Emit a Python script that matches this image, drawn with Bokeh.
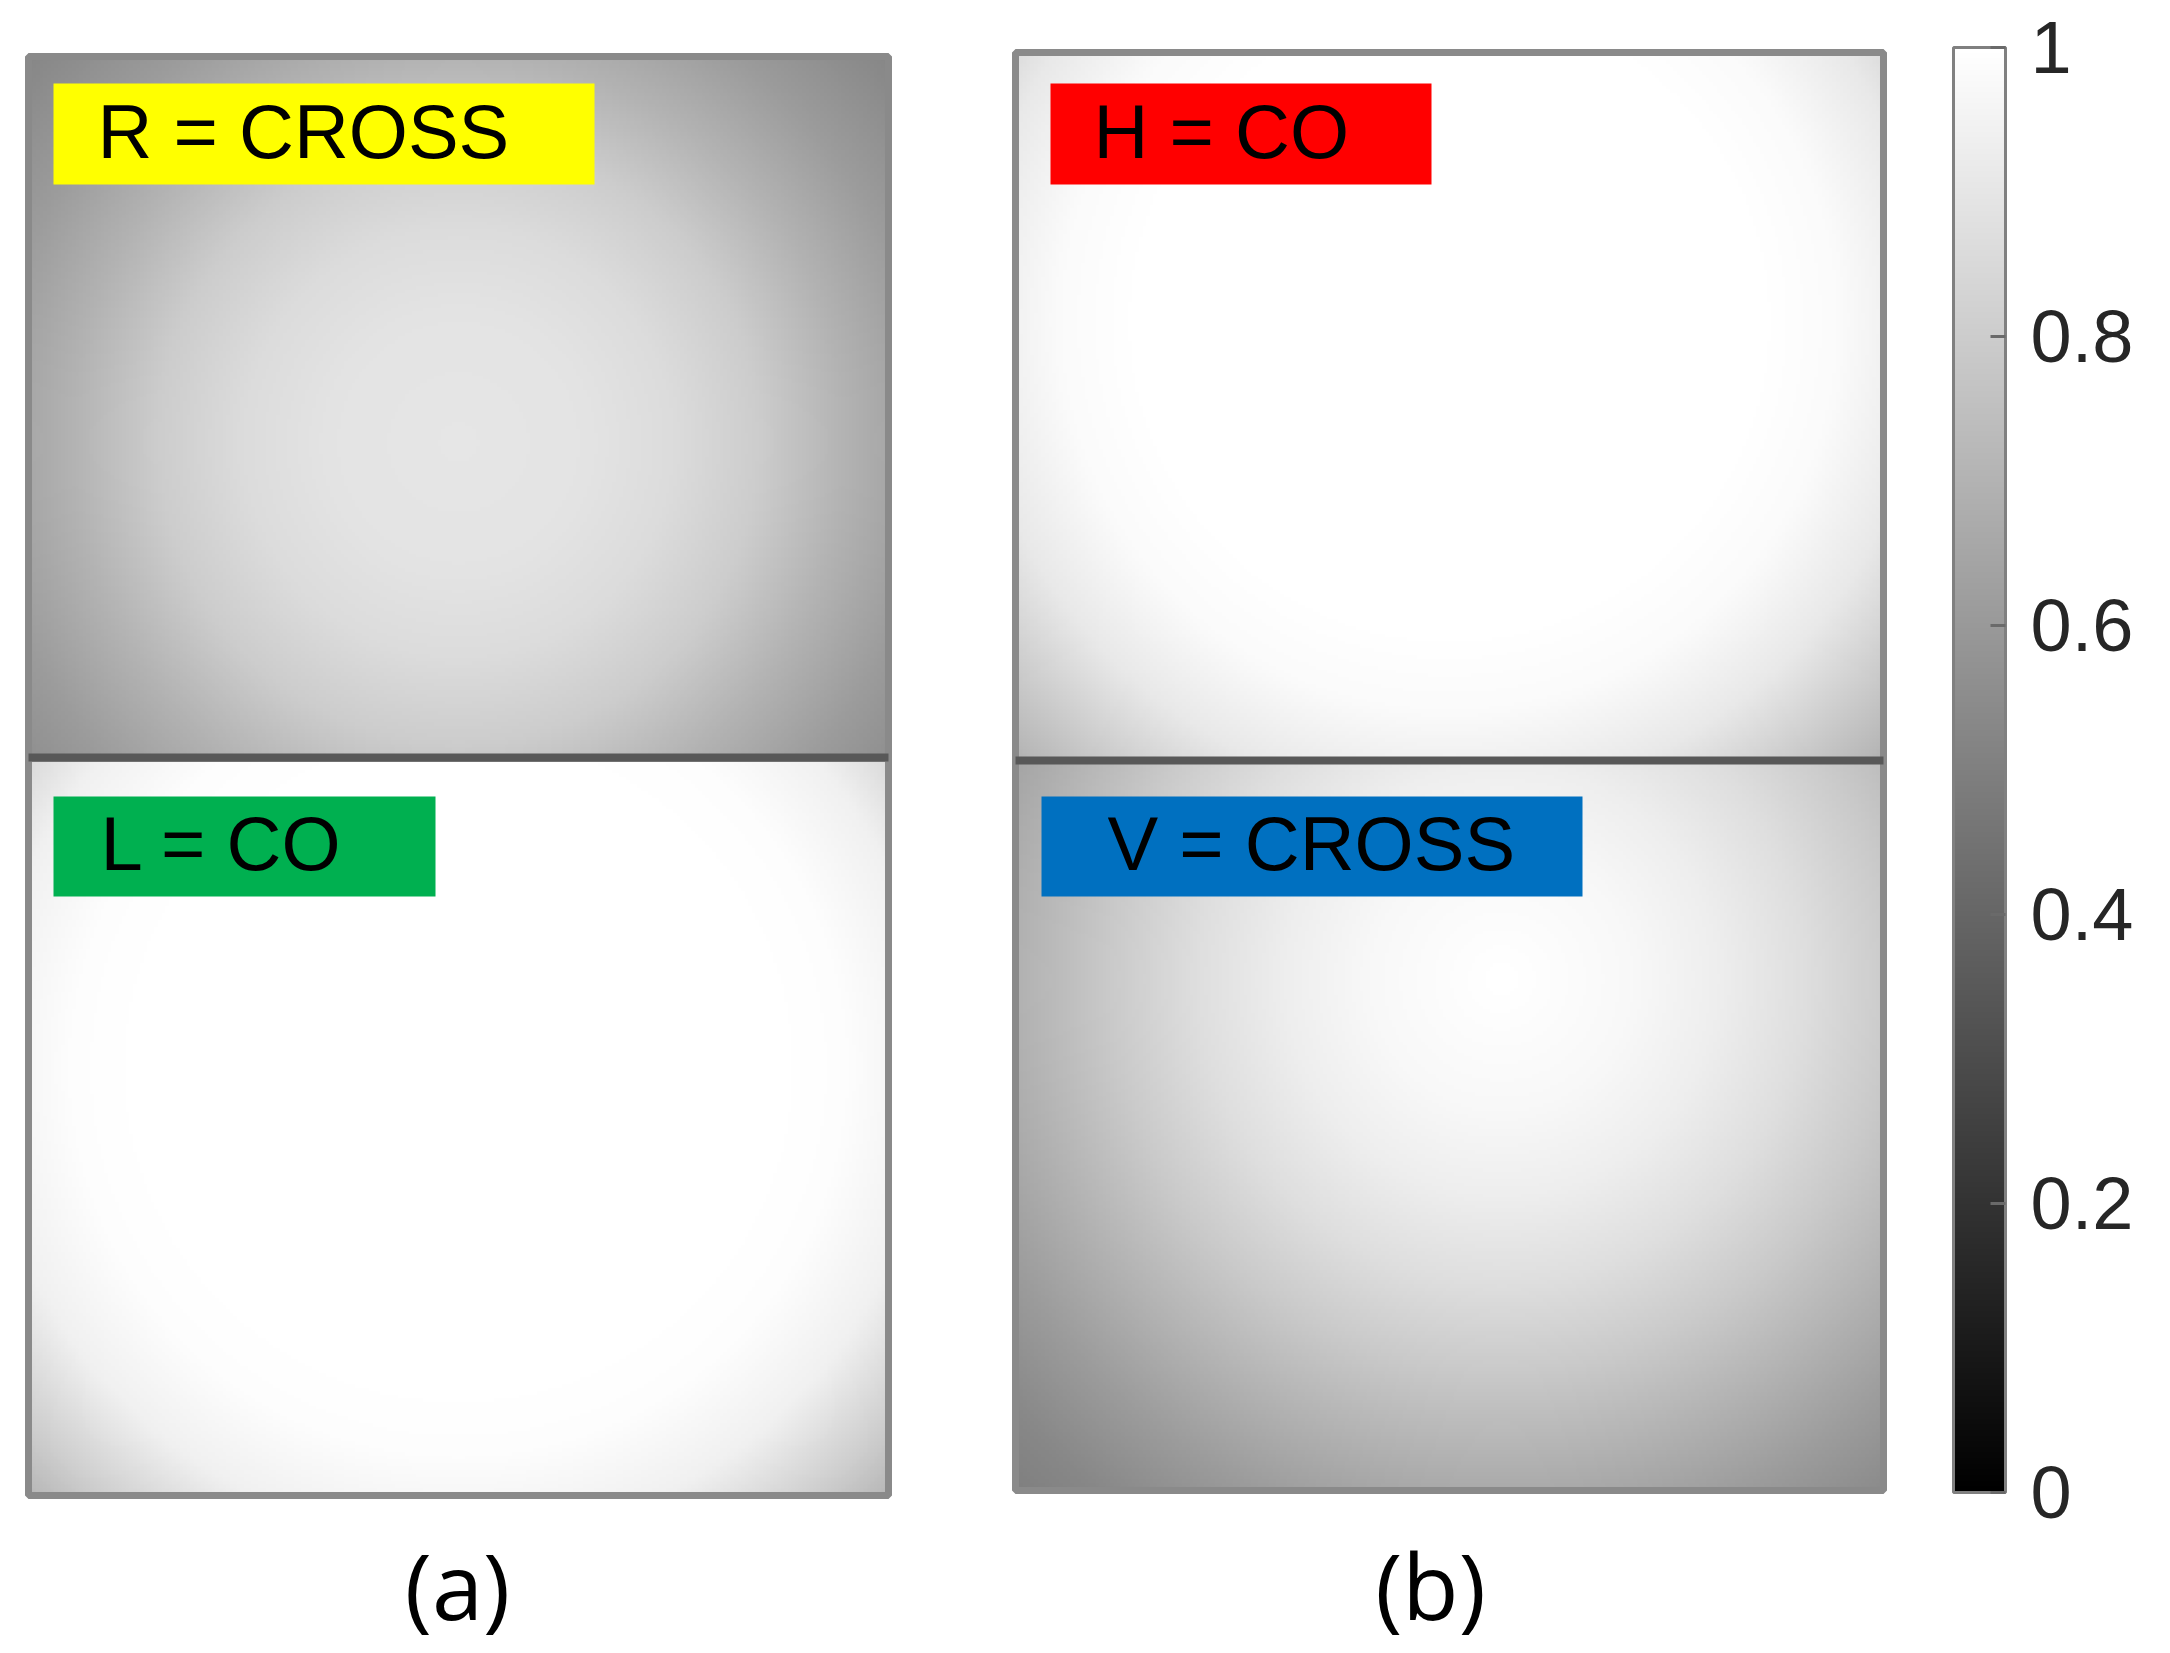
import numpy as np
from bokeh.plotting import figure
from bokeh.models import (Range1d, LinearColorMapper, ColorBar, FixedTicker,
                          CustomJSTickFormatter)
from bokeh.core.properties import value
from bokeh.embed import file_html
from bokeh.resources import INLINE

# ---------------- data ----------------
panel_names = ["R = CROSS", "L = CO", "H = CO", "V = CROSS"]
label_colors = ["#FFFF00", "#00B050", "#FF0000", "#0070C0"]
column_labels = ["(a)", "(b)"]

# radial intensity profiles: distance from the bright centre (in panel half-widths)
profile_r = [0.0, 0.3, 0.5, 0.7, 0.9, 1.1, 1.3, 1.5, 1.7]
R_cross = [0.90, 0.89, 0.86, 0.80, 0.70, 0.61, 0.54, 0.48, 0.45]
L_co = [1.00, 1.00, 1.00, 1.00, 0.99, 0.94, 0.80, 0.64, 0.56]
H_co = [1.00, 1.00, 1.00, 1.00, 0.98, 0.91, 0.78, 0.64, 0.56]
V_cross = [1.00, 0.97, 0.93, 0.87, 0.79, 0.70, 0.61, 0.53, 0.48]
profiles = [R_cross, L_co, H_co, V_cross]

# centre of the bright spot (fraction of width from left, of height from bottom)
centre_x = [0.50, 0.50, 0.50, 0.56]
centre_y = [0.45, 0.58, 0.62, 0.70]

colorbar_ticks = [0, 0.2, 0.4, 0.6, 0.8, 1]

# ---------------- layout (page pixels) ----------------
PAGE_W, PAGE_H = 2170, 1650


def Y(v):
    return PAGE_H - v


panel_rects = [(28, 888, 56, 758), (28, 888, 758, 1495),
               (1015, 1883, 52, 760), (1015, 1883, 760, 1490)]
label_boxes = [(53, 594, 83, 184), (53, 435, 796, 896),
               (1050, 1431, 83, 184), (1041, 1582, 796, 896)]
label_text_x = [97, 100, 1093, 1107]
column_label_x = [457, 1430]
column_label_y = 1584

grays = ["#%02x%02x%02x" % (i, i, i) for i in range(256)]
mapper = LinearColorMapper(palette=grays, low=0, high=1)

p = figure(width=PAGE_W, height=PAGE_H, x_range=Range1d(0, PAGE_W),
           y_range=Range1d(0, PAGE_H), output_backend="svg",
           toolbar_location=None, x_axis_location=None, y_axis_location=None,
           min_border=0, outline_line_color=None)
p.grid.visible = False


def intensity_map(vals, cx, cy, w, h, nx=240):
    ny = int(round(nx * h / w))
    xs = (np.arange(nx) + 0.5) / nx
    ys = (np.arange(ny) + 0.5) / ny
    X, Yg = np.meshgrid(xs, ys)
    r = np.hypot((X - cx) * w, (Yg - cy) * h) / (w / 2.0)
    return np.interp(r, profile_r, vals)


for k, (l, r, t, b) in enumerate(panel_rects):
    w, h = r - l, b - t
    img = intensity_map(profiles[k], centre_x[k], centre_y[k], w, h)
    p.image(image=[img], x=l, y=Y(b), dw=w, dh=h, color_mapper=mapper)

# frames
p.quad(left=[q[0] for q in panel_rects], right=[q[1] for q in panel_rects],
       top=[Y(q[2]) for q in panel_rects], bottom=[Y(q[3]) for q in panel_rects],
       fill_color=None, line_color="#8a8a8a", line_width=7)
# dividers between upper and lower maps
p.segment(x0=[28, 1015], x1=[888, 1883], y0=[Y(757), Y(760)], y1=[Y(757), Y(760)],
          line_color="#585858", line_width=8)

# coloured labels
p.quad(left=[q[0] for q in label_boxes], right=[q[1] for q in label_boxes],
       top=[Y(q[2]) for q in label_boxes], bottom=[Y(q[3]) for q in label_boxes],
       fill_color=label_colors, line_color=None)
p.text(x=label_text_x, y=[Y((q[2] + q[3]) / 2 - 3) for q in label_boxes],
       text=panel_names, text_font=value("Liberation Sans"),
       text_font_size="76px", text_baseline="middle", text_align="left",
       text_color="#000000")

p.text(x=column_label_x, y=[Y(column_label_y)] * 2, text=column_labels,
       text_font=value("Open Sans"), text_font_size="92px",
       text_baseline="middle", text_align="center", text_color="#000000")

cb = ColorBar(color_mapper=mapper, ticker=FixedTicker(ticks=colorbar_ticks),
              formatter=CustomJSTickFormatter(code="return String(Math.round(tick*10)/10)"),
              width=52, height=1445, location=(1953, PAGE_H - 1492), padding=0, margin=0,
              label_standoff=25, major_label_text_font="Liberation Sans",
              major_label_text_font_size="74px", major_label_text_color="#262626",
              major_tick_in=15, major_tick_out=0, major_tick_line_color="#6a6a6a",
              major_tick_line_width=3, minor_tick_line_color=None,
              bar_line_color="#808080", bar_line_width=3,
              background_fill_alpha=0, border_line_color=None)
p.add_layout(cb, "center")

open("out.html", "w").write(file_html(p, INLINE))
